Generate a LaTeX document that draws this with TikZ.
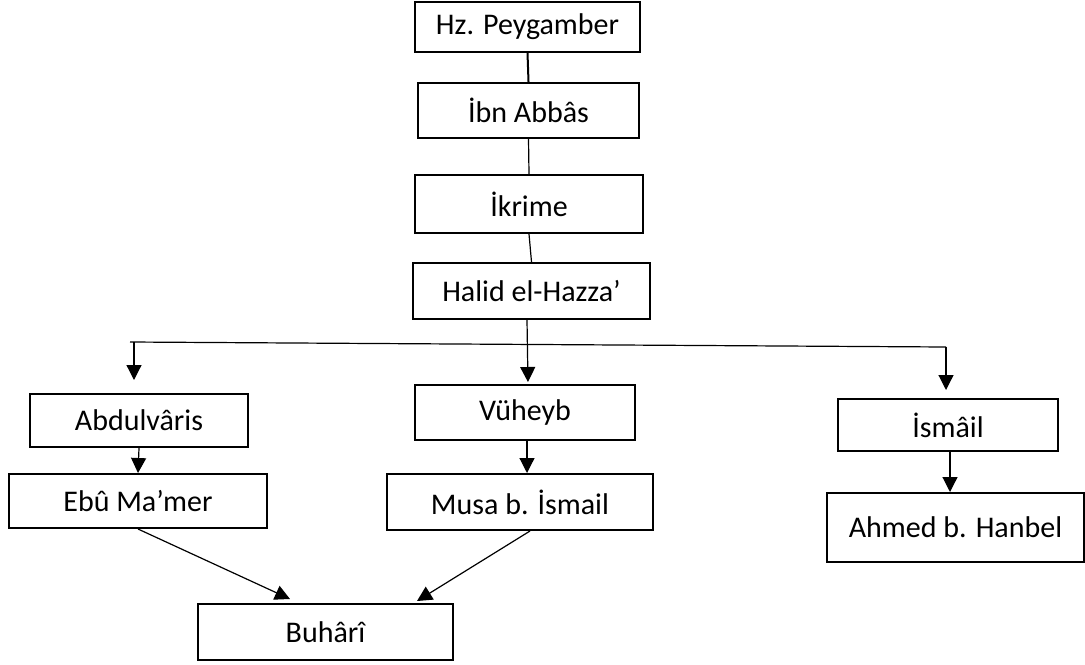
\documentclass[tikz,border=0pt]{standalone}
\usepackage{fontspec}
\setmainfont{Carlito}
\usepackage{tikz}
\usetikzlibrary{arrows.meta}

\begin{document}
\begin{tikzpicture}[
            x=0.5pt, y=-0.5pt, % one unit is one pixel of the reference
            narrator/.style={rectangle, draw, line width=1pt, fill=white, font=\fontsize{15}{17}\selectfont, inner sep=0pt}, % Box for each narrator
            link/.style={line width=0.6pt}, % Plain connector
            arr/.style={link, -{Triangle[width=7.5pt,length=7.5pt]}} % Connector with arrow
            ]

                \useasboundingbox (0,0) rectangle (1085,664);

                % Main chain from the top
                \node[narrator, minimum width=112.5pt, minimum height=25pt] (hz) at (527.5,27) {Hz. Peygamber};
                \node[narrator, minimum width=110.5pt, minimum height=27.5pt] (ibn) at (528.5,110.5) {İbn Abbâs};
                \node[narrator, minimum width=114pt, minimum height=29pt] (ikr) at (529,204) {İkrime};
                \node[narrator, minimum width=118.5pt, minimum height=28pt] (hal) at (531.5,291) {Halid el-Hazza’};

                % Three branches
                \node[narrator, minimum width=109pt, minimum height=26.5pt] (abd) at (139,420.5) {Abdulvâris};
                \node[narrator, minimum width=129pt, minimum height=27pt] (ebu) at (138,501) {Ebû Ma’mer};
                \node[narrator, minimum width=110pt, minimum height=27.5pt] (vuh) at (525,412.5) {Vüheyb};
                \node[narrator, minimum width=133pt, minimum height=28pt] (musa) at (520,502) {Musa b. İsmail};
                \node[narrator, minimum width=110pt, minimum height=26pt] (ism) at (948,425) {İsmâil};
                \node[narrator, minimum width=128.5pt, minimum height=34.5pt] (ahm) at (955.5,527.5) {Ahmed b. Hanbel};

                % Bottom node
                \node[narrator, minimum width=127.5pt, minimum height=28pt] (buh) at (325.5,632) {Buhârî};

                % Links of the chain
                \draw[link, line width=1pt] (hz.south) -- (ibn.north);
                \draw[link] (ibn.south) -- (ikr.north);
                \draw[link] (ikr.south) -- (hal.north);

                % Split line
                \coordinate (bl) at (134,342);
                \coordinate (br) at (946,347);
                \draw[link] ([xshift=-2pt]bl) -- (br);
                \draw[arr, shorten >=6.5pt] (bl) -- (bl |- abd.north);
                \draw[arr, shorten >=1pt] ([xshift=-2.25pt]hal.south) -- ([xshift=1.5pt]vuh.north);
                \draw[arr, shorten >=4pt] (br) -- (br |- ism.north);

                % Down each branch
                \draw[arr] (abd.south) -- (ebu.north);
                \draw[arr] ([xshift=1pt]vuh.south) -- ([xshift=1pt]vuh.south |- musa.north);
                \draw[arr] ([xshift=1pt]ism.south) -- ([xshift=1pt]ism.south |- ahm.north);

                % Into Buhari
                \draw[arr] (ebu.south) -- ([xshift=-17.75pt, yshift=2pt]buh.north);
                \draw[arr] ([xshift=5pt]musa.south) -- ([xshift=45.75pt, yshift=1pt]buh.north);

            \end{tikzpicture}
\end{document}
